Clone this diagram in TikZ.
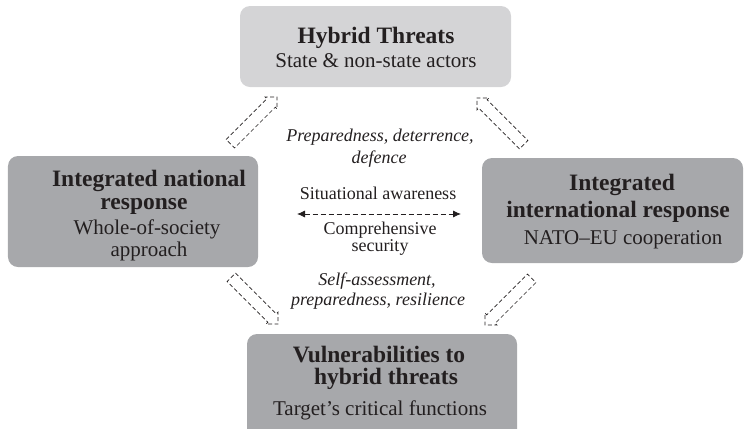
\documentclass[tikz,border=0pt]{standalone}
\usepackage{fontspec}
\setmainfont{Liberation Serif}
\usetikzlibrary{arrows.meta}

\definecolor{boxlight}{RGB}{212,212,214}
\definecolor{boxdark}{RGB}{167,168,171}
\definecolor{ink}{RGB}{35,31,32}

% hollow dashed block arrow, centred on a named coordinate, pointing at angle #3
\newcommand\hollowarrow[3]{%
  \coordinate (#1) at #2;
  \begin{scope}[shift={(#1)}, rotate=#3]
    \draw[blockarrow] (-33,-6) -- (24.5,-6) -- (24.5,-8.5) -- (33,0)
      -- (24.5,8.5) -- (24.5,6) -- (-33,6) -- cycle;
  \end{scope}}

\begin{document}
\begin{tikzpicture}[x=1bp,y=-1bp,
  panel/.style={rounded corners=10bp, inner sep=0pt, draw=none},
  headline/.style={anchor=base, inner sep=0pt, text=ink,
    font=\fontsize{23.5bp}{24bp}\selectfont\bfseries},
  subline/.style={anchor=base, inner sep=0pt, text=ink,
    font=\fontsize{21bp}{22bp}\selectfont},
  midline/.style={anchor=base, inner sep=0pt, text=ink,
    font=\fontsize{18bp}{19bp}\selectfont},
  noteline/.style={anchor=base, inner sep=0pt, text=ink,
    font=\fontsize{18bp}{19bp}\selectfont\itshape},
  blockarrow/.style={draw=ink, fill=white, line width=0.7bp,
    dash pattern=on 4bp off 2.5bp, line join=miter},
  twoway/.style={draw=ink, line width=0.8bp, dash pattern=on 5bp off 3bp,
    {Latex[length=8bp,width=7bp]}-{Latex[length=8bp,width=7bp]}}
]
\useasboundingbox (0,0) rectangle (747,428);

% panels
\node[panel, fill=boxlight, minimum width=271bp, minimum height=81bp]
  (threatsbox) at (375.5,46.5) {};
\node[panel, fill=boxdark, minimum width=250bp, minimum height=111bp]
  (nationalbox) at (133,211.5) {};
\node[panel, fill=boxdark, minimum width=261bp, minimum height=105bp]
  (internationalbox) at (612.5,210.5) {};
\node[panel, fill=boxdark, minimum width=270bp, minimum height=115bp]
  (vulnerabilitybox) at (382,391.5) {};

% panel texts
\node[headline] (threatsA) at (376,43) {Hybrid Threats};
\node[subline]  (threatsB) at (376,67) {State \& non-state actors};

\node[headline] (nationalA) at (149,186.5) {Integrated national};
\node[headline] (nationalB) at (144,209) {response};
\node[subline]  (nationalC) at (147,234) {Whole-of-society};
\node[subline]  (nationalD) at (149,256.5) {approach};

\node[headline] (internationalA) at (622,190) {Integrated};
\node[headline] (internationalB) at (618,217) {international response};
\node[subline]  (internationalC) at (623,244) {NATO–EU cooperation};

\node[headline] (vulnerabilityA) at (379,362) {Vulnerabilities to};
\node[headline] (vulnerabilityB) at (386,384) {hybrid threats};
\node[subline]  (vulnerabilityC) at (380,415) {Target’s critical functions};

% centre texts
\node[noteline] (noteA) at (380,141) {Preparedness, deterrence,};
\node[noteline] (noteB) at (379,163) {defence};
\node[midline]  (awareness) at (378,199) {Situational awareness};
\node[midline]  (comprehensiveA) at (380,234) {Comprehensive};
\node[midline]  (comprehensiveB) at (380,251) {security};
\node[noteline] (noteC) at (377,285) {Self-assessment,};
\node[noteline] (noteD) at (378,305) {preparedness, resilience};

% two-way dashed arrow
\coordinate (twowayL) at (297,214);
\coordinate (twowayR) at (461,214);
\draw[twoway] (twowayL) -- (twowayR);

% dashed block arrows between the panels
\hollowarrow{arrowNT}{(253.7,120.3)}{45}
\hollowarrow{arrowIT}{(500.3,121.3)}{135}
\hollowarrow{arrowNV}{(254.7,300.7)}{-45}
\hollowarrow{arrowIV}{(508.3,301.7)}{-135}
\end{tikzpicture}
\end{document}
